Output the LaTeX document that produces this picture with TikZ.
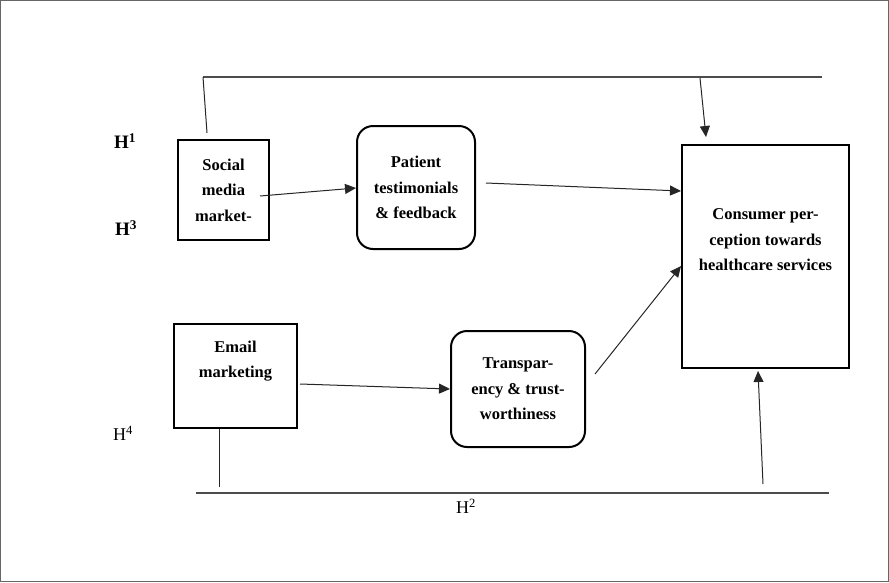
\documentclass[tikz,border=0pt]{standalone}
\usepackage{fontspec}
\setmainfont{Liberation Serif}
\usetikzlibrary{arrows.meta}
\begin{document}
\begin{tikzpicture}[x=1pt,y=-1pt,
  sqbox/.style={draw=black,line width=2pt,inner sep=0pt,align=center,font=\fontsize{16.5}{25.5}\selectfont\bfseries},
  rbox/.style={sqbox,rounded corners=16pt},
  conn/.style={draw=black!85,line width=1pt},
  arr/.style={conn,-{Triangle[length=11pt,width=10pt]}},
  hlab/.style={font=\fontsize{19}{20}\selectfont\bfseries,inner sep=0pt},
  hlabn/.style={font=\fontsize{18}{20}\selectfont,inner sep=0pt}]
\useasboundingbox (0,0) rectangle (889,582);
\draw[black!60,line width=1pt] (0.5,0.5) rectangle (888.5,581.5);

\node[sqbox,minimum width=91pt,minimum height=100pt] (sm) at (223.5,190) {Social\\media\\market-};
\node[rbox,minimum width=118pt,minimum height=123pt] (pt) at (416,187.5) {Patient\\testimonials\\\& feedback};
\node[sqbox,minimum width=123pt,minimum height=104pt] (em) at (235.5,376) {Email\\marketing\\\strut};
\node[rbox,minimum width=134pt,minimum height=116pt] (tr) at (518,389) {Transpar-\\ency \& trust-\\worthiness};
\node[sqbox,minimum width=167pt,minimum height=223pt] (cp) at (765.5,256.5) {Consumer per-\\ception towards\\healthcare services\\\strut};

\node[hlab] (h1) at (125,141) {H\textsuperscript{1}};
\node[hlab] (h3) at (126,228) {H\textsuperscript{3}};
\node[hlabn] (h4) at (123,433) {H\textsuperscript{4}};
\node[hlabn] (h2) at (466,506) {H\textsuperscript{2}};

\coordinate (tl) at (203,77);
\coordinate (tr1) at (822,77);
\coordinate (tlb) at (207,133);
\coordinate (ta) at (700,78);
\coordinate (bl) at (196,493);
\coordinate (br) at (829,493);
\coordinate (eb) at (219,487);
\coordinate (ba) at (763,484);

\draw[black!70,line width=1.3pt] (tl) -- (tr1);
\draw[conn] (tl) -- (tlb);
\draw[arr] (ta) -- (706,137);
\draw[black!70,line width=1.3pt] (bl) -- (br);
\draw[conn] (em.south -| eb) -- (eb);
\draw[arr] (ba) -- (758,371);

\draw[arr] (260,196) -- (pt.west |- 0,188);
\draw[arr] (486,183) -- (cp.west |- 0,191);
\draw[arr] (300,384) -- (tr.west |- 0,389);
\draw[arr] (595,374) -- (681,266);
\end{tikzpicture}
\end{document}
